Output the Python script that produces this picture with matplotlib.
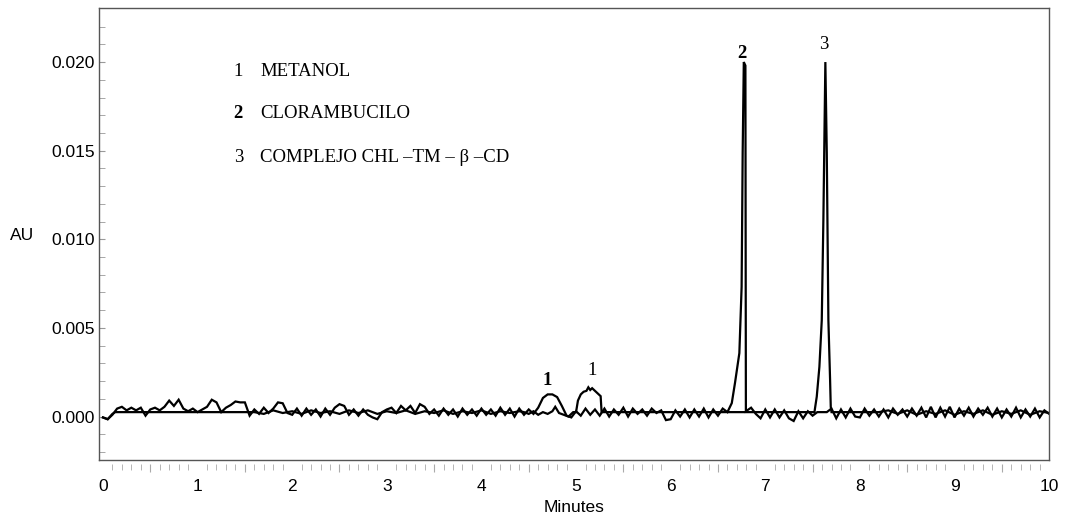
import matplotlib
matplotlib.use("Agg")
import matplotlib.pyplot as plt
import numpy as np

# chromatogram values, AU in units of 1e-4
# trace A: chlorambucil run (bold labels), (minutes, AU*1e4)
trace_a = [
    (0.00, -0.5), (0.05, -1.5), (0.10, 1.0), (0.15, 4.5), (0.20, 5.5), (0.25, 3.5),
    (0.30, 5.0), (0.35, 3.5), (0.40, 5.0), (0.45, 0.5), (0.50, 4.0), (0.55, 5.0),
    (0.60, 3.5), (0.65, 5.5), (0.70, 9.0), (0.75, 6.0), (0.80, 9.5), (0.85, 4.5),
    (0.90, 3.0), (0.95, 4.5), (1.00, 2.5), (1.05, 4.0), (1.10, 5.5), (1.15, 9.5),
    (1.20, 8.0), (1.25, 2.5), (1.30, 5.0), (1.35, 6.5), (1.40, 8.5), (1.45, 8.0),
    (1.50, 8.0), (1.55, 0.5), (1.60, 4.0), (1.65, 1.5), (1.70, 5.0), (1.75, 2.0),
    (1.80, 4.5), (1.85, 8.0), (1.90, 7.5), (1.95, 2.0), (2.00, 1.0), (2.05, 4.5),
    (2.10, 0.5), (2.15, 4.5), (2.20, 1.0), (2.25, 4.0), (2.30, 0.0), (2.35, 4.5),
    (2.40, 1.0), (2.45, 5.0), (2.50, 7.0), (2.55, 6.0), (2.60, 1.0), (2.65, 4.0),
    (2.70, 0.5), (2.75, 4.0), (2.80, 1.0), (2.85, -0.5), (2.90, -1.5), (2.95, 2.5),
    (3.00, 4.0), (3.05, 5.0), (3.10, 2.0), (3.15, 6.0), (3.20, 3.5), (3.25, 6.0),
    (3.30, 2.0), (3.35, 7.0), (3.40, 5.5), (3.45, 1.5), (3.50, 4.0), (3.55, 0.5),
    (3.60, 4.5), (3.65, 1.0), (3.70, 4.0), (3.75, 0.0), (3.80, 4.5), (3.85, 1.0),
    (3.90, 4.0), (3.95, 0.5), (4.00, 4.5), (4.05, 1.0), (4.10, 4.0), (4.15, 0.5),
    (4.20, 5.0), (4.25, 1.0), (4.30, 4.5), (4.35, 0.0), (4.40, 4.5), (4.45, 1.0),
    (4.50, 4.0), (4.55, 1.5), (4.60, 5.0), (4.65, 10.5), (4.70, 12.5), (4.75, 12.5),
    (4.80, 11.0), (4.85, 6.0), (4.90, 0.5), (4.95, -0.5), (5.00, 3.0), (5.05, 0.5),
    (5.10, 4.5), (5.15, 1.0), (5.20, 4.0), (5.25, 0.5), (5.30, 4.5), (5.35, 0.0),
    (5.40, 4.0), (5.45, 1.0), (5.50, 5.0), (5.55, 0.0), (5.60, 4.5), (5.65, 1.5),
    (5.70, 4.0), (5.75, 0.5), (5.80, 4.5), (5.85, 2.0), (5.90, 3.5), (5.95, -2.0),
    (6.00, -1.5), (6.05, 3.5), (6.10, 0.0), (6.15, 4.0), (6.20, -0.5), (6.25, 4.0),
    (6.30, 0.0), (6.35, 4.5), (6.40, -0.5), (6.45, 4.0), (6.50, 0.5), (6.55, 4.5),
    (6.60, 2.5), (6.646, 7.6), (6.68, 19.0), (6.726, 35.8), (6.75, 73.2),
    (6.761, 148.6), (6.773, 200.0), (6.79, 198.0), (6.795, 3.0), (6.85, 5.0),
    (6.90, 1.5), (6.95, -1.0), (7.00, 4.0), (7.05, -0.5), (7.10, 4.0), (7.15, -0.5),
    (7.20, 3.5), (7.25, -1.0), (7.30, -2.5), (7.35, 3.0), (7.40, -1.0), (7.45, 3.0),
    (7.50, 0.5), (7.55, 2.5), (7.60, 2.5), (7.65, 2.5), (7.70, 4.5), (7.75, -1.0),
    (7.80, 4.0), (7.85, -0.5), (7.90, 4.5), (7.95, 0.0), (8.00, -0.5), (8.05, 4.5),
    (8.10, 0.5), (8.15, 4.0), (8.20, 0.0), (8.25, 4.0), (8.30, -0.5), (8.35, 4.5),
    (8.40, 1.0), (8.45, 4.0), (8.50, 0.0), (8.55, 4.5), (8.60, 0.5), (8.65, 5.0),
    (8.70, -0.5), (8.75, 5.5), (8.80, -0.5), (8.85, 5.0), (8.90, 0.0), (8.95, 5.5),
    (9.00, -0.5), (9.05, 4.5), (9.10, 0.5), (9.15, 5.0), (9.20, 0.0), (9.25, 4.5),
    (9.30, 1.0), (9.35, 5.0), (9.40, 0.0), (9.45, 4.5), (9.50, -0.5), (9.55, 4.0),
    (9.60, 0.0), (9.65, 5.0), (9.70, -0.5), (9.75, 4.0), (9.80, 0.0), (9.85, 4.5),
    (9.90, -0.5), (9.95, 3.5), (10.00, 1.5),
]

# trace B: complex run (regular labels)
trace_b = [
    (0.00, -0.5), (0.05, -1.5), (0.10, 1.5), (0.13, 2.5), (1.60, 2.5),
    (1.70, 1.5), (1.80, 3.5), (1.90, 2.0), (2.00, 3.0), (2.10, 1.5), (2.20, 3.5),
    (2.30, 2.0), (2.40, 3.0), (2.50, 1.5), (2.60, 3.5), (2.70, 2.0), (2.80, 3.5),
    (2.90, 1.5), (3.00, 3.0), (3.10, 2.0), (3.20, 3.5), (3.30, 1.5), (3.40, 3.0),
    (3.50, 2.0), (3.60, 3.5), (3.70, 1.5), (3.80, 3.0), (3.90, 2.0), (4.00, 3.5),
    (4.10, 1.5), (4.20, 3.0), (4.30, 2.0), (4.40, 3.0), (4.45, 2.5),
    (4.50, 1.5), (4.55, 3.0), (4.60, 1.0), (4.65, 2.5), (4.70, 1.5), (4.75, 3.0),
    (4.78, 5.5), (4.82, 2.0), (4.87, 1.0), (4.92, 0.0), (4.97, 2.5),
    (5.00, 2.5), (5.02, 9.0), (5.05, 12.5), (5.08, 14.0), (5.11, 14.5), (5.13, 16.5),
    (5.15, 15.0), (5.17, 16.0), (5.20, 14.5), (5.23, 13.0), (5.26, 11.5), (5.27, 2.5),
    (7.52, 2.5), (7.526, 4.8), (7.544, 11.2), (7.572, 28.1), (7.597, 54.4),
    (7.614, 110.9), (7.635, 200.0), (7.65, 148.7), (7.667, 54.4), (7.685, 20.6),
    (7.692, 5.5), (7.70, 2.5), (8.20, 2.5), (8.30, 3.5), (8.40, 1.5), (8.50, 3.5),
    (8.60, 1.0), (8.70, 3.0), (8.80, 1.5), (8.90, 3.5), (9.00, 1.0), (9.10, 3.0),
    (9.20, 1.5), (9.30, 3.5), (9.40, 1.0), (9.50, 3.0), (9.60, 1.5), (9.70, 3.5),
    (9.80, 1.0), (9.90, 3.0), (10.00, 2.0),
]

legend_nums = ["1", "2", "3"]
legend_names = ["METANOL", "CLORAMBUCILO", "COMPLEJO CHL \u2013TM \u2013 \u03b2 \u2013CD"]
legend_bold = [False, True, False]

# peak labels: (minutes, AU, text, bold)
peak_labels = [(4.69, 0.00206, "1", True), (5.17, 0.00262, "1", False),
               (6.755, 0.0205, "2", True), (7.615, 0.0210, "3", False)]

serif = "Liberation Serif"
sans = "Liberation Sans"

fig = plt.figure(figsize=(10.7, 5.22), dpi=100)
ax = fig.add_axes([0.0925, 0.1188, 0.888, 0.8659])

for pts in (trace_a, trace_b):
    t, v = zip(*pts)
    ax.plot(t, np.array(v) * 1e-4, color="black", lw=1.6, solid_joinstyle="miter")

ax.set_xlim(-0.042, 10.0)
ax.set_ylim(-0.00245, 0.02305)

for s in ax.spines.values():
    s.set_color("#555555")
    s.set_linewidth(1.0)

# y axis: ticks every 0.001 inside, labels every 0.005
ax.set_yticks(np.arange(0, 0.0201, 0.005))
ax.set_yticklabels(["0.000", "0.005", "0.010", "0.015", "0.020"], family=sans, fontsize=12.5)
ax.set_yticks(np.arange(-0.002, 0.0226, 0.001), minor=True)
ax.tick_params(axis="y", which="both", direction="in", length=4, color="#999999", pad=3)

# x axis: labels on integers, ticks drawn slightly below the frame
ax.set_xticks(range(0, 11))
ax.set_xticklabels([str(i) for i in range(0, 11)], family=sans, fontsize=12.5)
ax.tick_params(axis="x", which="major", length=0, pad=14)
sec = ax.secondary_xaxis(-0.008)
sec.spines["bottom"].set_visible(False)
halfs = [i + 0.5 for i in range(10)]
tenths = [i / 10 for i in range(1, 100) if i % 10 != 0 and i % 5 != 0]
sec.set_xticks(halfs)
sec.set_xticklabels([])
sec.set_xticks(tenths, minor=True)
sec.tick_params(which="major", length=6, color="#aaaaaa", direction="out")
sec.tick_params(which="minor", length=4, color="#aaaaaa", direction="out")

fig.text(574 / 1070, 1 - 508 / 522, "Minutes", family=sans, fontsize=12.5,
         ha="center", va="center")
fig.text(22 / 1070, 1 - 236 / 522, "AU", family=sans, fontsize=12.5,
         ha="center", va="center")

leg_y = [0.01949, 0.01707, 0.01464]
for num, name, bold, y in zip(legend_nums, legend_names, legend_bold, leg_y):
    ax.text(1.43, y, num, family=serif, fontsize=13.5, ha="center", va="center",
            fontweight="bold" if bold else "normal")
    ax.text(1.66, y, name, family=serif, fontsize=13.5, ha="left", va="center")

for x, y, txt, bold in peak_labels:
    ax.text(x, y, txt, family=serif, fontsize=13.5, ha="center", va="center",
            fontweight="bold" if bold else "normal")

fig.savefig("out.png", dpi=100)
